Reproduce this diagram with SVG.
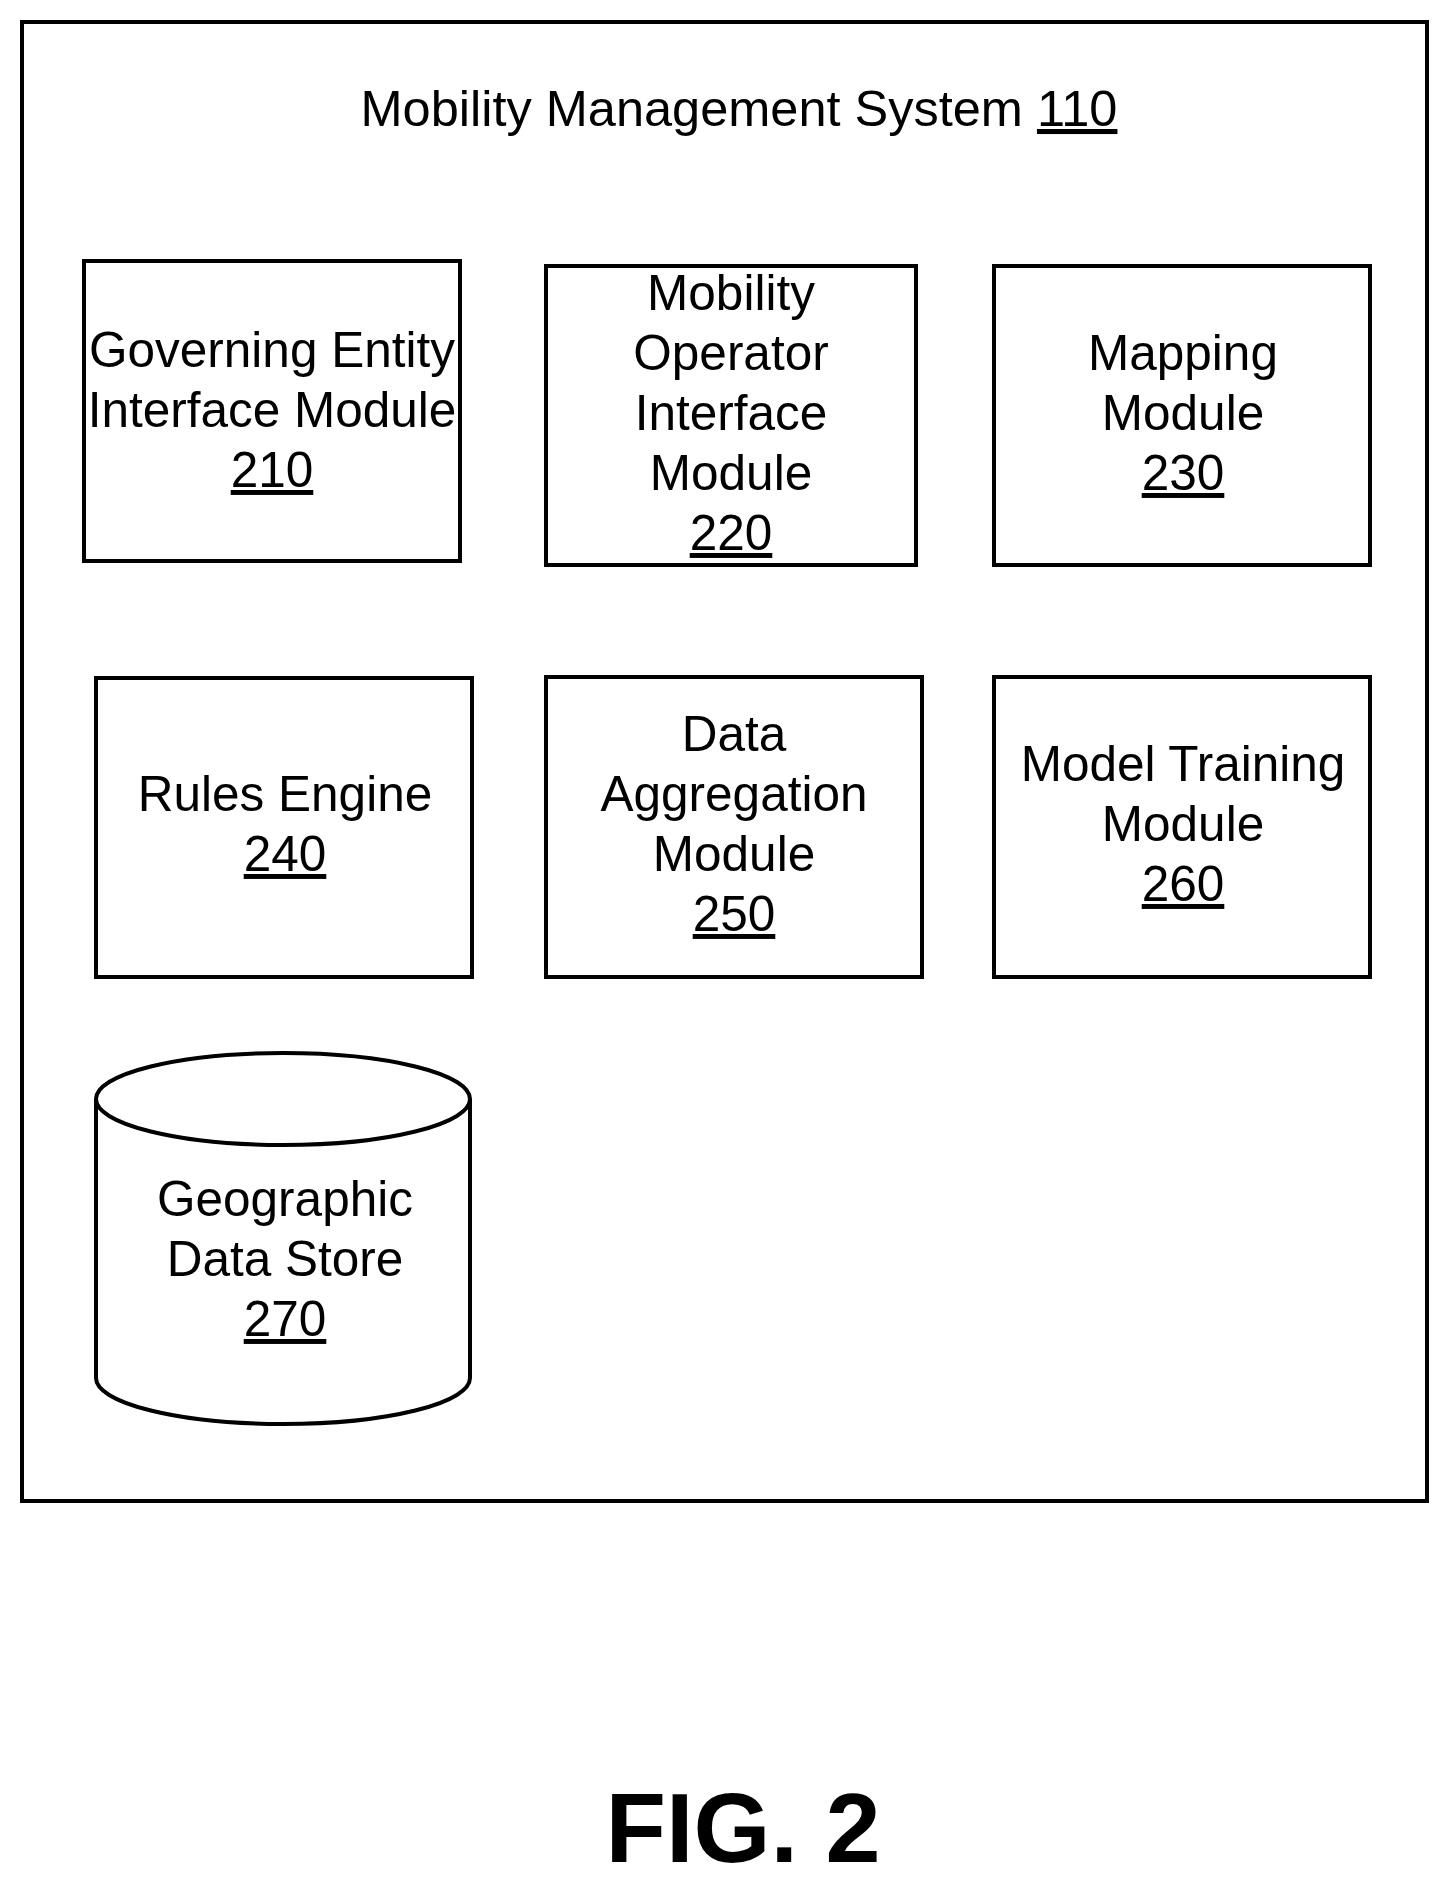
<svg xmlns="http://www.w3.org/2000/svg" width="1452" height="1889" viewBox="0 0 1452 1889">
<style>
.b{fill:#fff;stroke:#000;stroke-width:4}
.t{font-family:"Liberation Sans",Arial,sans-serif;font-size:49.5px;text-anchor:middle;fill:#000}
.u{text-decoration:underline}
</style>
<rect width="1452" height="1889" fill="#fff"/>
<g id="system"><rect class="b" x="22" y="22" width="1405" height="1479"/>
<text class="t" x="739" y="126" style="font-size:50.5px">Mobility Management System <tspan class="u">110</tspan></text></g>
<g id="n210"><rect class="b" x="84" y="261" width="376" height="300"/>
<text class="t" x="272" y="367">Governing Entity</text><text class="t" x="272" y="427">Interface Module</text><text class="t u" x="272" y="487">210</text></g>
<g id="n220"><rect class="b" x="546" y="266" width="370" height="299"/>
<text class="t" x="731" y="310">Mobility</text><text class="t" x="731" y="370">Operator</text><text class="t" x="731" y="430">Interface</text><text class="t" x="731" y="490">Module</text><text class="t u" x="731" y="550">220</text></g>
<g id="n230"><rect class="b" x="994" y="266" width="376" height="299"/>
<text class="t" x="1183" y="370">Mapping</text><text class="t" x="1183" y="430">Module</text><text class="t u" x="1183" y="490">230</text></g>
<g id="n240"><rect class="b" x="96" y="678" width="376" height="299"/>
<text class="t" x="285" y="811">Rules Engine</text><text class="t u" x="285" y="871">240</text></g>
<g id="n250"><rect class="b" x="546" y="677" width="376" height="300"/>
<text class="t" x="734" y="751">Data</text><text class="t" x="734" y="811">Aggregation</text><text class="t" x="734" y="871">Module</text><text class="t u" x="734" y="931">250</text></g>
<g id="n260"><rect class="b" x="994" y="677" width="376" height="300"/>
<text class="t" x="1183" y="781">Model Training</text><text class="t" x="1183" y="841">Module</text><text class="t u" x="1183" y="901">260</text></g>
<g id="n270"><path class="b" d="M96 1099 L96 1378 A187 46 0 0 0 470 1378 L470 1099"/>
<ellipse class="b" cx="283" cy="1099" rx="187" ry="46"/>
<text class="t" x="285" y="1216">Geographic</text><text class="t" x="285" y="1276">Data Store</text><text class="t u" x="285" y="1336">270</text></g>
<g id="connectors"/>
<text x="743" y="1862" font-family="Liberation Sans,Arial,sans-serif" font-size="99" font-weight="bold" text-anchor="middle">FIG. 2</text>
</svg>
